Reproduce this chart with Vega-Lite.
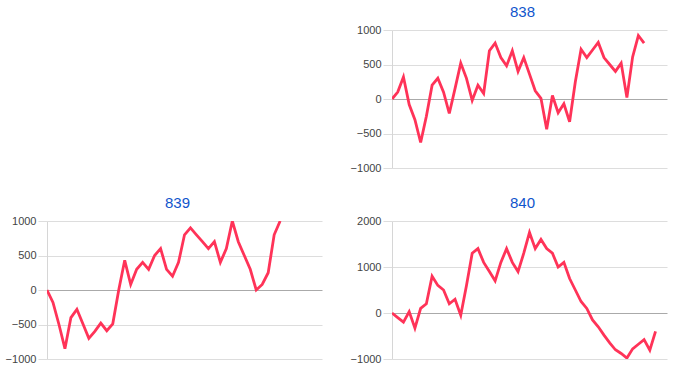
{
  "$schema": "https://vega.github.io/schema/vega-lite/v6.json",
  "datasets": {
    "pnl": [
      {"chart":"838","x":0,"value":0},{"chart":"838","x":1,"value":100},{"chart":"838","x":2,"value":320},{"chart":"838","x":3,"value":-80},{"chart":"838","x":4,"value":-300},{"chart":"838","x":5,"value":-630},{"chart":"838","x":6,"value":-250},{"chart":"838","x":7,"value":200},{"chart":"838","x":8,"value":300},{"chart":"838","x":9,"value":100},{"chart":"838","x":10,"value":-210},{"chart":"838","x":11,"value":150},{"chart":"838","x":12,"value":520},{"chart":"838","x":13,"value":300},{"chart":"838","x":14,"value":-20},{"chart":"838","x":15,"value":200},{"chart":"838","x":16,"value":80},{"chart":"838","x":17,"value":700},{"chart":"838","x":18,"value":810},{"chart":"838","x":19,"value":600},{"chart":"838","x":20,"value":480},{"chart":"838","x":21,"value":700},{"chart":"838","x":22,"value":400},{"chart":"838","x":23,"value":600},{"chart":"838","x":24,"value":360},{"chart":"838","x":25,"value":120},{"chart":"838","x":26,"value":10},{"chart":"838","x":27,"value":-440},{"chart":"838","x":28,"value":50},{"chart":"838","x":29,"value":-200},{"chart":"838","x":30,"value":-70},{"chart":"838","x":31,"value":-330},{"chart":"838","x":32,"value":250},{"chart":"838","x":33,"value":720},{"chart":"838","x":34,"value":600},{"chart":"838","x":35,"value":710},{"chart":"838","x":36,"value":820},{"chart":"838","x":37,"value":600},{"chart":"838","x":38,"value":500},{"chart":"838","x":39,"value":400},{"chart":"838","x":40,"value":520},{"chart":"838","x":41,"value":20},{"chart":"838","x":42,"value":610},{"chart":"838","x":43,"value":920},{"chart":"838","x":44,"value":810},
      {"chart":"839","x":0,"value":0},{"chart":"839","x":1,"value":-180},{"chart":"839","x":2,"value":-500},{"chart":"839","x":3,"value":-850},{"chart":"839","x":4,"value":-400},{"chart":"839","x":5,"value":-280},{"chart":"839","x":6,"value":-490},{"chart":"839","x":7,"value":-700},{"chart":"839","x":8,"value":-600},{"chart":"839","x":9,"value":-480},{"chart":"839","x":10,"value":-590},{"chart":"839","x":11,"value":-490},{"chart":"839","x":12,"value":0},{"chart":"839","x":13,"value":430},{"chart":"839","x":14,"value":80},{"chart":"839","x":15,"value":300},{"chart":"839","x":16,"value":400},{"chart":"839","x":17,"value":300},{"chart":"839","x":18,"value":500},{"chart":"839","x":19,"value":600},{"chart":"839","x":20,"value":300},{"chart":"839","x":21,"value":200},{"chart":"839","x":22,"value":400},{"chart":"839","x":23,"value":800},{"chart":"839","x":24,"value":900},{"chart":"839","x":25,"value":800},{"chart":"839","x":26,"value":700},{"chart":"839","x":27,"value":600},{"chart":"839","x":28,"value":700},{"chart":"839","x":29,"value":400},{"chart":"839","x":30,"value":600},{"chart":"839","x":31,"value":1000},{"chart":"839","x":32,"value":700},{"chart":"839","x":33,"value":500},{"chart":"839","x":34,"value":300},{"chart":"839","x":35,"value":0},{"chart":"839","x":36,"value":80},{"chart":"839","x":37,"value":250},{"chart":"839","x":38,"value":800},{"chart":"839","x":39,"value":1000},
      {"chart":"840","x":0,"value":0},{"chart":"840","x":1,"value":-100},{"chart":"840","x":2,"value":-200},{"chart":"840","x":3,"value":30},{"chart":"840","x":4,"value":-330},{"chart":"840","x":5,"value":100},{"chart":"840","x":6,"value":200},{"chart":"840","x":7,"value":800},{"chart":"840","x":8,"value":600},{"chart":"840","x":9,"value":500},{"chart":"840","x":10,"value":200},{"chart":"840","x":11,"value":300},{"chart":"840","x":12,"value":-50},{"chart":"840","x":13,"value":600},{"chart":"840","x":14,"value":1300},{"chart":"840","x":15,"value":1400},{"chart":"840","x":16,"value":1100},{"chart":"840","x":17,"value":900},{"chart":"840","x":18,"value":700},{"chart":"840","x":19,"value":1100},{"chart":"840","x":20,"value":1400},{"chart":"840","x":21,"value":1100},{"chart":"840","x":22,"value":900},{"chart":"840","x":23,"value":1300},{"chart":"840","x":24,"value":1750},{"chart":"840","x":25,"value":1400},{"chart":"840","x":26,"value":1600},{"chart":"840","x":27,"value":1400},{"chart":"840","x":28,"value":1300},{"chart":"840","x":29,"value":1000},{"chart":"840","x":30,"value":1100},{"chart":"840","x":31,"value":750},{"chart":"840","x":32,"value":500},{"chart":"840","x":33,"value":250},{"chart":"840","x":34,"value":100},{"chart":"840","x":35,"value":-150},{"chart":"840","x":36,"value":-300},{"chart":"840","x":37,"value":-480},{"chart":"840","x":38,"value":-650},{"chart":"840","x":39,"value":-800},{"chart":"840","x":40,"value":-880},{"chart":"840","x":41,"value":-980},{"chart":"840","x":42,"value":-780},{"chart":"840","x":43,"value":-680},{"chart":"840","x":44,"value":-580},{"chart":"840","x":45,"value":-810},{"chart":"840","x":46,"value":-400}
    ],
    "blank": [{}]
  },
  "data": {"name": "pnl"},
  "columns": 2,
  "spacing": {"row": 23, "column": 28},
  "config": {
    "font": "Liberation Sans",
    "view": {"stroke": null},
    "title": {"fontSize": 15, "fontWeight": "normal", "color": "#1155cc", "font": "Liberation Sans", "anchor": "middle", "frame": "group", "dx": -7, "offset": 4},
    "axis": {"labelFont": "Liberation Sans", "labelFontSize": 11, "labelColor": "#444444", "gridColor": "#dddddd", "tickColor": "#dddddd", "domainColor": "#d6d6d6", "tickSize": 9, "labelPadding": 2, "title": null, "format": "d"}
  },
  "concat": [
    {"data": {"name": "blank"}, "width": 275, "height": 138, "mark": {"type": "text", "text": ""}, "encoding": {}},
    {
      "title": {"text": "838"},
      "width": 275, "height": 138,
      "transform": [{"filter": "datum.chart === '838'"}],
      "mark": {"type": "line", "color": "#ff3358", "strokeWidth": 2.8, "clip": true},
      "encoding": {
        "x": {"field": "x", "type": "quantitative", "scale": {"domain": [0, 48], "nice": false, "zero": false}, "axis": null},
        "y": {"field": "value", "type": "quantitative", "scale": {"domain": [-1000, 1000], "nice": false}, "axis": {"values": [-1000, -500, 0, 500, 1000], "format": "d", "gridColor": {"condition": {"test": "datum.value === 0", "value": "#aaaaaa"}, "value": "#dddddd"}}}
      }
    },
    {
      "title": {"text": "839"},
      "width": 275, "height": 138,
      "transform": [{"filter": "datum.chart === '839'"}],
      "mark": {"type": "line", "color": "#ff3358", "strokeWidth": 2.8, "clip": true},
      "encoding": {
        "x": {"field": "x", "type": "quantitative", "scale": {"domain": [0, 46], "nice": false, "zero": false}, "axis": null},
        "y": {"field": "value", "type": "quantitative", "scale": {"domain": [-1000, 1000], "nice": false}, "axis": {"values": [-1000, -500, 0, 500, 1000], "format": "d", "gridColor": {"condition": {"test": "datum.value === 0", "value": "#aaaaaa"}, "value": "#dddddd"}}}
      }
    },
    {
      "title": {"text": "840"},
      "width": 275, "height": 138,
      "transform": [{"filter": "datum.chart === '840'"}],
      "mark": {"type": "line", "color": "#ff3358", "strokeWidth": 2.8, "clip": true},
      "encoding": {
        "x": {"field": "x", "type": "quantitative", "scale": {"domain": [0, 48], "nice": false, "zero": false}, "axis": null},
        "y": {"field": "value", "type": "quantitative", "scale": {"domain": [-1000, 2000], "nice": false}, "axis": {"values": [-1000, 0, 1000, 2000], "format": "d", "gridColor": {"condition": {"test": "datum.value === 0", "value": "#aaaaaa"}, "value": "#dddddd"}}}
      }
    }
  ]
}
